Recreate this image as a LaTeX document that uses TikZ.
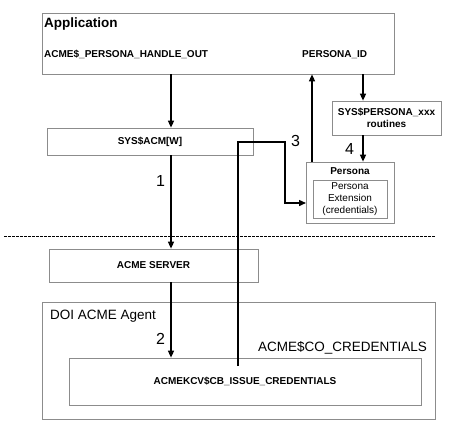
\documentclass[tikz,border=0pt]{standalone}
\usepackage{fontspec}
\setmainfont{Liberation Sans}
\usetikzlibrary{arrows.meta}

\begin{document}
\begin{tikzpicture}[x=1pt, y=-1pt,
	box/.style 2 args={draw=black!45, line width=0.7pt, inner sep=0pt,
		minimum width=#1, minimum height=#2, font=\fontsize{10}{12}\selectfont\bfseries},
	label/.style={inner sep=0pt, anchor=base west},
	num/.style={inner sep=0pt, font=\fontsize{16}{16}\selectfont},
	flow/.style={line width=1.4pt, -{Triangle[length=7pt, width=6pt]}}
]

\def\width{468}
\def\height{420}
\path [use as bounding box] (0,0) rectangle (\width,\height);

% COLUMNS
\coordinate (colA) at (171,0);
\coordinate (colB) at (363,0);
\coordinate (colC) at (312,0);

% BOXES
\node [box={352}{61}] (app) at (218,43.5) {};
\node [box={206}{27}] (acm) at (150,141.5) {SYS\$ACM[W]};
\node [box={109}{34}, align=center] (sysp) at (386.5,118) {SYS\$PERSONA\_xxx\\routines};
\node [box={88}{61}] (persona) at (350,192.5) {};
\node [box={74}{38}, align=center, font=\fontsize{10}{12.3}\selectfont] (ext) at (350,199)
	{Persona\\Extension\\(credentials)};
\node [box={209}{33}] (server) at (153.5,265.5) {ACME SERVER};
\node [box={393}{117}] (agent) at (238.5,360.5) {};
\node [box={352}{47}] (kcv) at (245,381.5) {ACMEKCV\$CB\_ISSUE\_CREDENTIALS};

% TEXTS
\node [label, font=\fontsize{13.5}{14}\selectfont\bfseries] (apptitle) at (44,28) {Application};
\node [label, font=\fontsize{10}{12}\selectfont\bfseries] (handle) at (44,57) {ACME\$\_PERSONA\_HANDLE\_OUT};
\node [label, font=\fontsize{10}{12}\selectfont\bfseries] (pid) at (302,57) {PERSONA\_ID};
\node [inner sep=0pt, anchor=base, font=\fontsize{10}{12}\selectfont\bfseries] (ptitle) at (350,174) {Persona};
\node [label, font=\fontsize{13.5}{14}\selectfont] (agenttitle) at (50,319) {DOI ACME Agent};
\node [label, font=\fontsize{13.5}{14}\selectfont] (cotitle) at (258,351.5) {ACME\$CO\_CREDENTIALS};

% SEPARATOR
\draw [line width=0.8pt, dash pattern=on 2.5pt off 1.5pt] (4,236) -- (435,236);

% FLOWS
\draw [flow] (app.south -| colA) -- (acm.north -| colA);
\draw [flow] (acm.south -| colA) -- (server.north -| colA);
\draw [flow] (server.south -| colA) -- (kcv.north -| colA);
\draw [flow] (app.south -| colB) -- (sysp.north -| colB);
\draw [flow] (sysp.south -| colB) -- (persona.north -| colB);
\draw [flow] (persona.north -| colC) -- (app.south -| colC);

% CALLBACK
\coordinate (start3) at (238,366);
\coordinate (turn3) at (285,142);
\coordinate (in3) at (306,203);
\draw [flow] (start3) |- (turn3) |- (in3);

% STEPS
\node [num] (n1) at (160.5,181) {1};
\node [num] (n2) at (160.5,338.5) {2};
\node [num] (n3) at (295.5,140.5) {3};
\node [num] (n4) at (349.5,149) {4};

\end{tikzpicture}
\end{document}
